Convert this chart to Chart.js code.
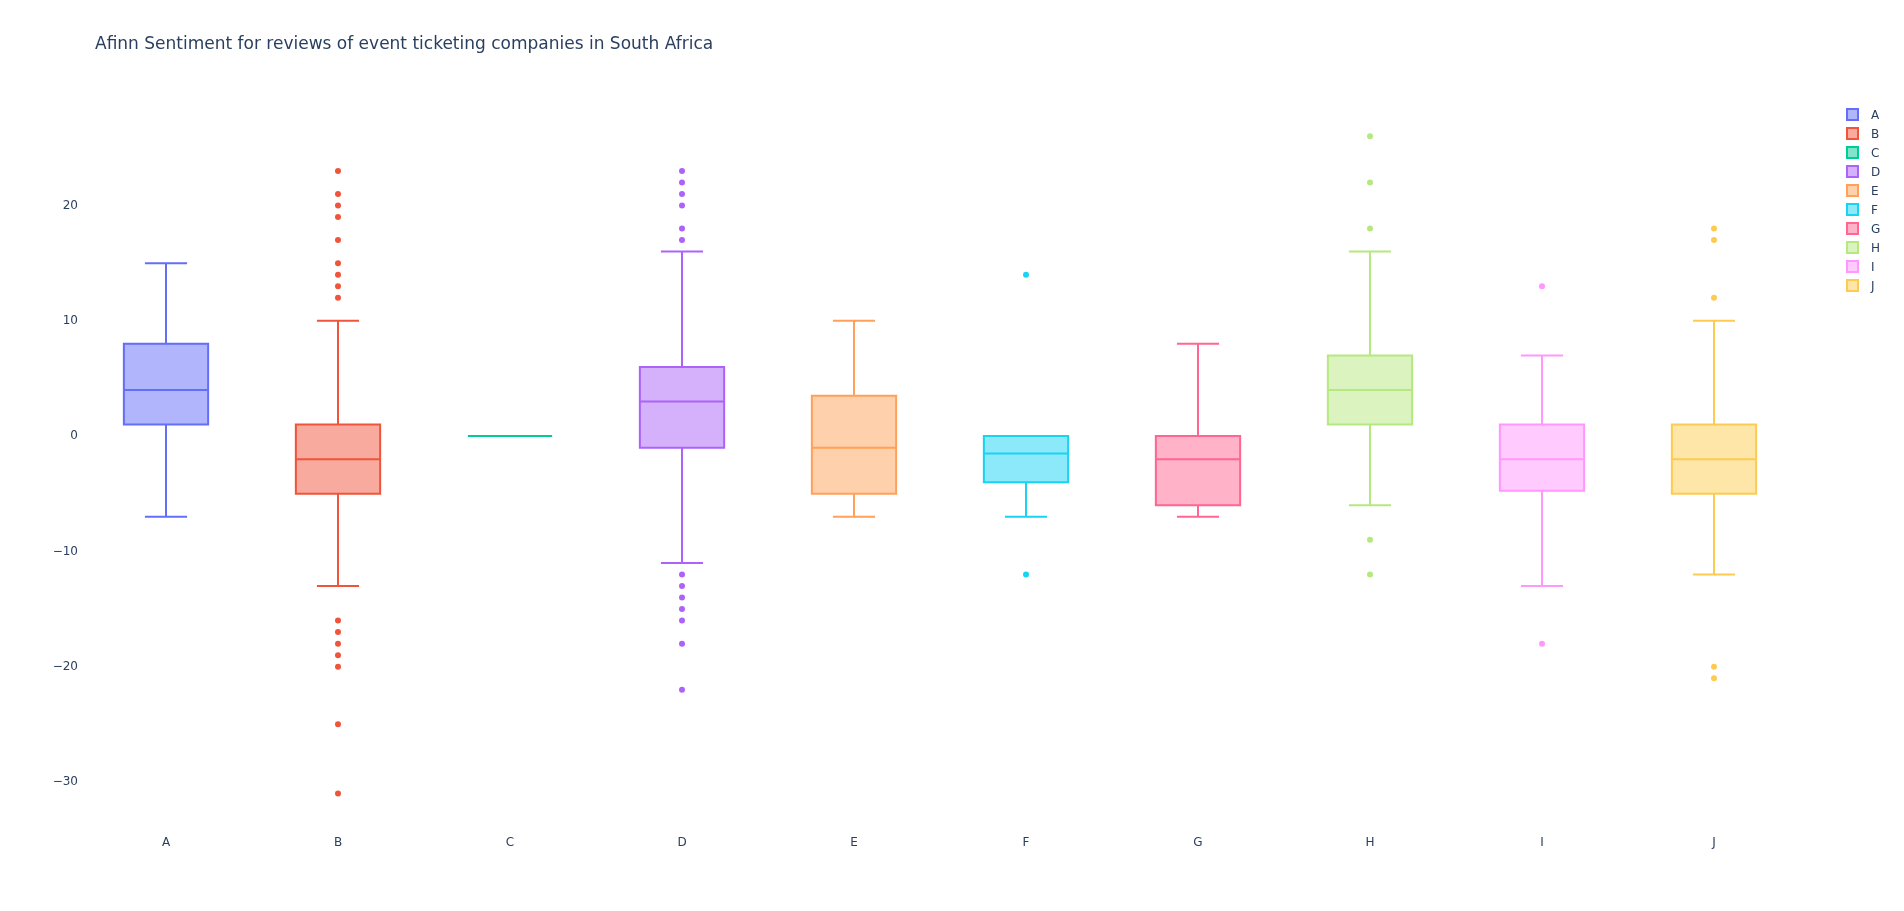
<!DOCTYPE html>
<html>
<head>
<meta charset="utf-8">
<script src="https://cdn.jsdelivr.net/npm/chart.js@4.4.1/dist/chart.umd.min.js"></script>
<style>
    body { margin: 0; background: #fff; font-family: 'DejaVu Sans', verdana, arial, sans-serif; }
    #wrap { position: relative; width: 1904px; height: 911px; }
    #title { position: absolute; left: 95px; top: 33px; font-size: 17px; color: #2a3f5f; white-space: nowrap; }
    #legend { position: absolute; left: 1846px; top: 105px; font-size: 12px; color: #2a3f5f; }
    .item { display: flex; align-items: center; height: 19px; }
    .swatch { width: 9px; height: 9px; border: 2px solid; margin-right: 12px; }
</style>
</head>
<body>
<div id="wrap">
    <canvas id="boxChart"></canvas>
    <div id="title">Afinn Sentiment for reviews of event ticketing companies in South Africa</div>
    <div id="legend"></div>
</div>
<script>
// Box statistics
const companies = ['A', 'B', 'C', 'D', 'E', 'F', 'G', 'H', 'I', 'J'];
const lowerWhisker = [-7, -13, 0, -11, -7, -7, -7, -6, -13, -12];
const q1Values     = [1, -5, 0, -1, -5, -4, -6, 1, -4.75, -5];
const medianValues = [4, -2, 0, 3, -1, -1.5, -2, 4, -2, -2];
const q3Values     = [8, 1, 0, 6, 3.5, 0, 0, 7, 1, 1];
const upperWhisker = [15, 10, 0, 16, 10, 0, 8, 16, 7, 10];
const outliers = [
    [],
    [23, 21, 20, 19, 17, 15, 14, 13, 12, -16, -17, -18, -19, -20, -25, -31],
    [],
    [23, 22, 21, 20, 18, 17, -12, -13, -14, -15, -16, -18, -22],
    [],
    [14, -12],
    [],
    [26, 22, 18, -9, -12],
    [13, -18],
    [18, 17, 12, -20, -21]
];
const yTicks = [-30, -20, -10, 0, 10, 20];

const colors = ['#636efa', '#EF553B', '#00cc96', '#ab63fa', '#FFA15A',
                '#19d3f3', '#FF6692', '#B6E880', '#FF97FF', '#FECB52'];

function fade(hex, a) {
    const n = parseInt(hex.slice(1), 16);
    return `rgba(${(n >> 16) & 255}, ${(n >> 8) & 255}, ${n & 255}, ${a})`;
}

const fontColor = '#2a3f5f';
Chart.defaults.font.family = "'DejaVu Sans', verdana, arial, sans-serif";
Chart.defaults.color = fontColor;

// box fills as floating bars, one dataset per company
const boxSets = companies.map((name, i) => ({
    type: 'bar',
    label: name,
    data: companies.map((c, j) => j === i ? [q1Values[i], q3Values[i]] : null),
    backgroundColor: fade(colors[i], 0.5),
    borderWidth: 0,
    grouped: false,
    barPercentage: 0.49,
    categoryPercentage: 1,
    order: 2
}));

// outlier points
const pointSets = companies.map((name, i) => ({
    type: 'line',
    label: name + ' outliers',
    data: outliers[i].map(v => ({ x: name, y: v })),
    showLine: false,
    pointRadius: 3,
    pointBorderWidth: 0,
    pointBackgroundColor: colors[i],
    order: 1
}));

// box outline, medians and whiskers, placed with the chart scales
const boxLines = {
    id: 'boxLines',
    afterDatasetsDraw(chart) {
        const ctx = chart.ctx;
        const y = chart.scales.y;
        ctx.save();
        ctx.lineWidth = 2;
        companies.forEach((name, i) => {
            const bar = chart.getDatasetMeta(i).data[i];
            const cx = bar.x;
            const half = bar.width / 2;
            const cap = half / 2;
            const yq1 = y.getPixelForValue(q1Values[i]);
            const yq3 = y.getPixelForValue(q3Values[i]);
            const ymed = y.getPixelForValue(medianValues[i]);
            const yhi = y.getPixelForValue(upperWhisker[i]);
            const ylo = y.getPixelForValue(lowerWhisker[i]);
            ctx.strokeStyle = colors[i];
            ctx.beginPath();
            if (yq1 !== yq3) ctx.rect(cx - half, yq3, half * 2, yq1 - yq3);
            ctx.moveTo(cx - half, ymed);
            ctx.lineTo(cx + half, ymed);
            ctx.moveTo(cx, yq3);
            ctx.lineTo(cx, yhi);
            ctx.moveTo(cx, yq1);
            ctx.lineTo(cx, ylo);
            if (yhi !== yq3) {
                ctx.moveTo(cx - cap, yhi);
                ctx.lineTo(cx + cap, yhi);
            }
            if (ylo !== yq1) {
                ctx.moveTo(cx - cap, ylo);
                ctx.lineTo(cx + cap, ylo);
            }
            ctx.stroke();
        });
        ctx.restore();
    }
};

new Chart(document.getElementById('boxChart'), {
    data: {
        labels: companies,
        datasets: [...boxSets, ...pointSets]
    },
    options: {
        responsive: true,
        maintainAspectRatio: false,
        animation: false,
        layout: { padding: { top: 100, right: 104, left: 0, bottom: 0 } },
        plugins: {
            legend: { display: false },
            title: { display: false },
            tooltip: { enabled: false }
        },
        scales: {
            x: {
                type: 'category',
                offset: true,
                grid: { display: false, drawTicks: false },
                border: { display: false },
                ticks: { padding: 5, font: { size: 12 }, color: fontColor },
                afterFit: s => { s.height = 80; }
            },
            y: {
                min: -34.25,
                max: 29.15,
                grid: { display: false, drawTicks: false },
                border: { display: false },
                ticks: {
                    padding: 2,
                    font: { size: 12 },
                    color: fontColor,
                    callback: v => String(v).replace('-', '\u2212')
                },
                afterBuildTicks: s => { s.ticks = yTicks.map(v => ({ value: v })); },
                afterFit: s => { s.width = 80; }
            }
        }
    },
    plugins: [boxLines]
});

// legend in plotly style
const legendEl = document.getElementById('legend');
companies.forEach((name, i) => {
    const item = document.createElement('div');
    item.className = 'item';
    item.innerHTML = `<span class="swatch" style="border-color:${colors[i]};background:${fade(colors[i], 0.5)}"></span>${name}`;
    legendEl.appendChild(item);
});
</script>
</body>
</html>
